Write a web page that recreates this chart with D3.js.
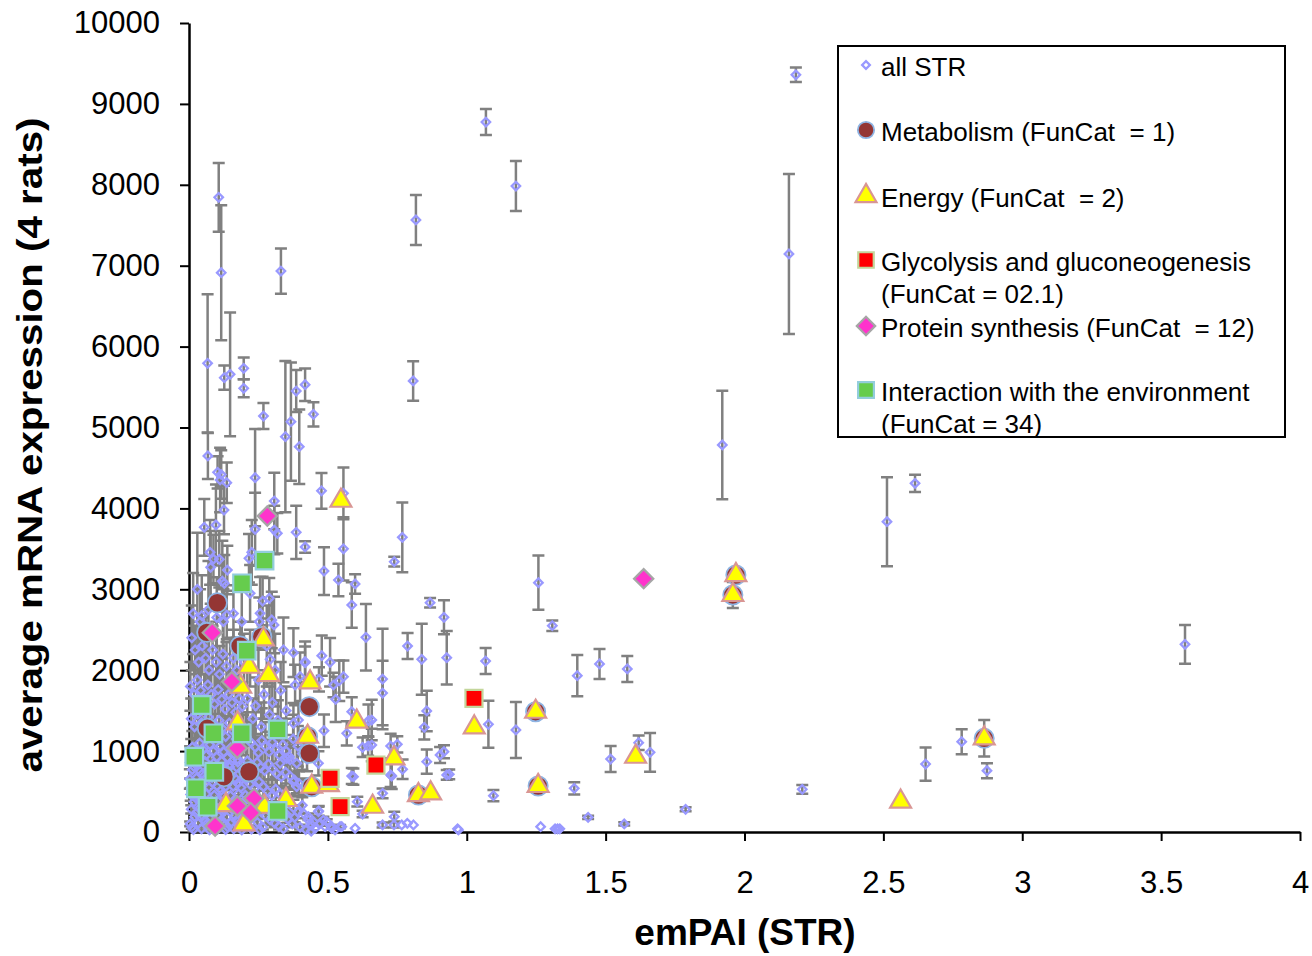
<!DOCTYPE html>
<html>
<head>
<meta charset="utf-8">
<script src="https://cdn.jsdelivr.net/npm/d3@7"></script>
<style>
  body { margin: 0; background: #fff; }
  svg { font-family: "Liberation Sans", Arial, sans-serif; }
</style>
</head>
<body>
<div id="chart"></div>
<script>
const xTicks = [0, 0.5, 1, 1.5, 2, 2.5, 3, 3.5, 4];
const yTicks = [0, 1000, 2000, 3000, 4000, 5000, 6000, 7000, 8000, 9000, 10000];

// all STR: [emPAI, mRNA, error]
const allStr = [
  [2.185, 9360, 90], [1.069, 8776, 160], [1.177, 7985, 310], [0.817, 7565, 310],
  [2.160, 7145, 990], [0.331, 6934, 280], [0.107, 7845, 425], [0.116, 6913, 835],
  [0.067, 5793, 855], [0.127, 5616, 150], [0.148, 5658, 765], [0.197, 5731, 135],
  [0.197, 5485, 110], [0.268, 5142, 160], [0.347, 4886, 935], [0.367, 5072, 730],
  [0.386, 5451, 260], [0.418, 5529, 200], [0.397, 4763, 460], [0.448, 5163, 150],
  [0.807, 5575, 245], [0.477, 4217, 220], [0.556, 4187, 320], [0.556, 3500, 390],
  [0.418, 3523, 70], [0.486, 3226, 295], [0.538, 3115, 200], [0.598, 3066, 120],
  [0.586, 2806, 280], [0.637, 2407, 410], [0.768, 3642, 430], [0.739, 3341, 60],
  [0.868, 2834, 60], [0.918, 2654, 210], [0.787, 2299, 160], [0.697, 1891, 620],
  [0.697, 1718, 400], [0.838, 2135, 440], [0.928, 2154, 330], [1.068, 2113, 160],
  [1.258, 3082, 335], [1.308, 2550, 65], [1.398, 1932, 255], [1.478, 2077, 185],
  [1.578, 2015, 160], [1.920, 4784, 670], [2.513, 3836, 550], [2.614, 4310, 107],
  [3.586, 2320, 240], [1.078, 1331, 290], [1.177, 1261, 345], [1.387, 540, 75],
  [1.518, 902, 160], [1.619, 1104, 90], [1.660, 985, 240], [1.266, 66, 0],
  [1.318, 40, 0], [1.327, 40, 0], [1.335, 40, 0], [1.437, 181, 20],
  [1.567, 99, 20], [1.788, 280, 25], [0.967, 40, 0], [1.096, 449, 70],
  [2.208, 527, 55], [2.652, 840, 205], [2.782, 1116, 155], [2.863, 1158, 225],
  [2.873, 758, 93], [1.958, 2930, 160],
  // 0.4 - 1.0
  [0.478, 2180, 250], [0.508, 2098, 300], [0.418, 2093, 200], [0.556, 1920, 200],
  [0.541, 1870, 250], [0.520, 1817, 150], [0.528, 1640, 280], [0.468, 1887, 150],
  [0.586, 1487, 180], [0.646, 1376, 200], [0.568, 1220, 150], [0.486, 1252, 200],
  [0.856, 1496, 250], [0.847, 1294, 150], [0.625, 1047, 120], [0.645, 1063, 120],
  [0.726, 1063, 150], [0.750, 1084, 100], [0.856, 869, 150], [0.904, 952, 100],
  [0.918, 993, 80], [0.928, 705, 60], [0.937, 713, 60], [0.726, 705, 150],
  [0.586, 692, 100], [0.769, 775, 120], [0.697, 478, 60], [0.606, 375, 60],
  [0.625, 222, 40], [0.739, 189, 60], [0.466, 251, 60], [0.484, 148, 40],
  [0.658, 1384, 250], [0.658, 1075, 200], [0.730, 692, 160], [0.412, 231, 0],
  [0.430, 148, 0], [0.442, 87, 0], [0.454, 45, 0], [0.490, 66, 0],
  [0.514, 45, 0], [0.526, 25, 0], [0.550, 66, 0], [0.598, 45, 0],
  [0.697, 87, 30], [0.738, 87, 30], [0.766, 87, 0], [0.786, 107, 0],
  [0.808, 87, 0], [0.970, 25, 0],
  // upper left
  [0.068, 4648, 285], [0.103, 4446, 200], [0.116, 4419, 300], [0.112, 4351, 400],
  [0.136, 4318, 250], [0.238, 4380, 600], [0.126, 3980, 300], [0.307, 4091, 350],
  [0.055, 3766, 350], [0.097, 3795, 500], [0.238, 3742, 450], [0.307, 3733, 300],
  [0.318, 3692, 250], [0.386, 3704, 330], [0.076, 3457, 400], [0.088, 3374, 300],
  [0.109, 3371, 350], [0.078, 3272, 450], [0.138, 3238, 300], [0.127, 3074, 350],
  [0.226, 3457, 400], [0.216, 3383, 300], [0.220, 2950, 350], [0.265, 2855, 300],
  [0.289, 2889, 250], [0.256, 2703, 450], [0.253, 2600, 300], [0.298, 2621, 350],
  [0.046, 2674, 500], [0.136, 2682, 300], [0.124, 2600, 400], [0.015, 2700, 500],
  [0.040, 2600, 400], [0.070, 2750, 600], [0.100, 2650, 500], [0.160, 2700, 350],
  [0.190, 2600, 450], [0.030, 3000, 700], [0.120, 3100, 500],
  // 0.3 - 0.45
  [0.376, 2217, 300], [0.418, 2105, 250], [0.400, 1920, 300], [0.382, 1817, 250],
  [0.394, 1384, 200], [0.376, 1344, 250], [0.306, 2559, 350], [0.292, 2135, 300],
  [0.466, 849, 150], [0.388, 849, 200], [0.364, 890, 150], [0.328, 849, 200],
  [0.352, 911, 150], [0.592, 684, 100], [0.376, 622, 100], [0.388, 560, 80],
  [0.430, 189, 40], [0.448, 127, 40], [0.472, 107, 30], [0.514, 66, 20],
  [0.544, 66, 20], [0.496, 127, 30], [0.467, 260, 60],
  [0.21, 1650, 400], [0.24, 1560, 350], [0.27, 1700, 300], [0.30, 1600, 400],
  [0.33, 1750, 350], [0.35, 1500, 300], [0.23, 1400, 250], [0.26, 1300, 300],
  [0.29, 1450, 350], [0.32, 1380, 250], [0.25, 1880, 400], [0.31, 2000, 450],
  [0.34, 2250, 400], [0.22, 2150, 350], [0.28, 2300, 500],
  // 0 - 0.2, 900 - 2500
  [0.010, 2400, 400], [0.022, 2250, 300], [0.035, 2100, 500], [0.048, 2300, 350],
  [0.060, 2150, 600], [0.072, 2000, 400], [0.085, 2250, 300], [0.098, 2100, 500],
  [0.110, 1950, 350], [0.122, 2200, 450], [0.135, 2050, 300], [0.148, 1900, 500],
  [0.160, 2150, 350], [0.172, 2000, 400], [0.185, 2300, 300], [0.198, 2100, 350],
  [0.005, 1800, 300], [0.018, 1700, 400], [0.030, 1880, 350], [0.042, 1750, 500],
  [0.055, 1650, 300], [0.068, 1820, 450], [0.080, 1700, 350], [0.092, 1580, 400],
  [0.105, 1760, 300], [0.118, 1640, 500], [0.130, 1520, 350], [0.142, 1700, 300],
  [0.155, 1600, 400], [0.168, 1480, 300], [0.180, 1650, 350], [0.192, 1550, 300],
  [0.008, 1400, 250], [0.020, 1300, 350], [0.032, 1460, 300], [0.045, 1350, 400],
  [0.058, 1250, 300], [0.070, 1420, 350], [0.082, 1320, 250], [0.095, 1200, 400],
  [0.108, 1380, 300], [0.120, 1280, 350], [0.132, 1180, 250], [0.145, 1350, 300],
  [0.158, 1250, 350], [0.170, 1150, 250], [0.182, 1300, 300], [0.195, 1200, 250],
  [0.012, 1050, 200], [0.025, 980, 250], [0.038, 1100, 300], [0.050, 1020, 200],
  [0.062, 950, 250], [0.075, 1080, 300], [0.088, 1000, 200], [0.100, 930, 250],
  [0.112, 1060, 200], [0.125, 990, 300], [0.138, 920, 200], [0.150, 1040, 250],
  [0.162, 970, 200], [0.175, 900, 250], [0.188, 1020, 200],
  // 0.2 - 0.45, 0 - 1200
  [0.205, 1180, 300], [0.222, 1110, 250], [0.238, 1050, 350], [0.250, 980, 200],
  [0.262, 1130, 400], [0.275, 1060, 300], [0.288, 990, 250], [0.300, 1110, 350],
  [0.312, 1020, 200], [0.325, 950, 300], [0.338, 1080, 250], [0.350, 1000, 400],
  [0.362, 930, 200], [0.375, 1150, 300], [0.392, 1060, 250], [0.408, 970, 200],
  [0.425, 900, 150], [0.210, 880, 200], [0.228, 820, 250], [0.245, 860, 300],
  [0.258, 800, 200], [0.272, 760, 250], [0.286, 840, 300], [0.300, 780, 200],
  [0.316, 720, 150], [0.332, 680, 250], [0.348, 740, 200], [0.364, 690, 150],
  [0.380, 640, 200], [0.396, 600, 150], [0.414, 560, 100], [0.205, 650, 150],
  [0.220, 590, 200], [0.236, 540, 150], [0.252, 620, 250], [0.268, 560, 200],
  [0.283, 500, 150], [0.298, 450, 200], [0.312, 530, 150], [0.328, 470, 100],
  [0.344, 410, 150], [0.360, 360, 100], [0.376, 300, 100], [0.392, 250, 80],
  [0.408, 330, 100], [0.212, 420, 100], [0.228, 360, 150], [0.244, 300, 100],
  [0.260, 250, 80], [0.276, 200, 100], [0.292, 150, 60], [0.308, 110, 50],
  [0.324, 70, 40], [0.340, 40, 30], [0.356, 160, 50], [0.372, 100, 40],
  [0.266, 60, 30], [0.246, 120, 40], [0.230, 190, 60], [0.290, 300, 80],
  [0.320, 260, 80], [0.350, 220, 60], [0.380, 180, 60], [0.400, 60, 30],
  [0.420, 30, 20], [0.440, 10, 10],
  // 0 - 0.2, 0 - 900
  [0.004, 860, 200], [0.031, 845, 150], [0.058, 870, 250], [0.089, 850, 180],
  [0.118, 875, 220], [0.147, 840, 160], [0.176, 865, 200],
  [0.012, 770, 150], [0.040, 750, 200], [0.069, 775, 120], [0.100, 755, 180],
  [0.128, 770, 150], [0.157, 745, 200], [0.190, 760, 120],
  [0.003, 655, 120], [0.027, 670, 150], [0.055, 650, 100], [0.083, 675, 160],
  [0.112, 645, 120], [0.141, 665, 150], [0.170, 650, 100], [0.198, 670, 130],
  [0.015, 560, 100], [0.043, 575, 120], [0.072, 550, 100], [0.101, 570, 140],
  [0.130, 555, 90], [0.159, 565, 120], [0.187, 550, 100],
  [0.006, 465, 80], [0.034, 450, 100], [0.062, 470, 90], [0.091, 455, 110],
  [0.120, 465, 80], [0.149, 450, 100], [0.178, 470, 90], [0.203, 455, 80],
  [0.018, 370, 60], [0.047, 385, 80], [0.076, 360, 70], [0.105, 380, 90],
  [0.134, 365, 60], [0.163, 375, 80], [0.192, 360, 70],
  [0.008, 280, 50], [0.037, 290, 60], [0.066, 270, 50], [0.095, 285, 70],
  [0.124, 275, 50], [0.153, 290, 60], [0.182, 270, 50],
  [0.020, 190, 40], [0.049, 200, 50], [0.078, 180, 40], [0.107, 195, 50],
  [0.136, 185, 40], [0.165, 200, 50], [0.194, 185, 40],
  [0.004, 100, 30], [0.033, 110, 40], [0.062, 95, 30], [0.091, 105, 40],
  [0.120, 100, 30], [0.149, 110, 40], [0.178, 95, 30], [0.207, 105, 30],
  [0.016, 30, 20], [0.045, 40, 20], [0.074, 25, 20], [0.103, 35, 20],
  [0.132, 30, 20], [0.161, 40, 20], [0.190, 25, 20], [0.225, 35, 20], [0.255, 25, 10],
  // extra fill near the origin
  [0.017, 810, 120], [0.047, 715, 100], [0.086, 610, 120], [0.116, 515, 90],
  [0.146, 805, 140], [0.176, 600, 100], [0.026, 415, 70], [0.056, 330, 60],
  [0.086, 235, 50], [0.116, 145, 40], [0.146, 330, 60], [0.172, 150, 40],
  [0.026, 235, 40], [0.056, 140, 30], [0.010, 60, 20], [0.140, 60, 20]
];

// FunCat subsets: [emPAI, mRNA]
const metabolism = [
  [0.102, 2834], [0.064, 2468], [0.184, 2299], [0.262, 2414], [0.066, 1282],
  [0.433, 1549], [0.427, 1178], [0.433, 973], [0.442, 560], [0.126, 684],
  [0.216, 745], [0.826, 457], [1.248, 1487], [1.257, 569], [1.969, 3177],
  [1.958, 2930], [2.863, 1158]
];
const energy = [
  [0.547, 4095], [0.268, 2382], [0.216, 2043], [0.286, 1941], [0.186, 1796],
  [0.436, 1850], [0.175, 1344], [0.427, 1178], [0.604, 1364], [0.442, 560],
  [0.133, 334], [0.271, 313], [0.349, 396], [0.198, 95], [0.661, 313],
  [0.738, 911], [0.502, 580], [0.826, 457], [0.870, 478], [1.027, 1294],
  [1.248, 1487], [1.257, 569], [1.608, 931], [1.969, 3177], [1.958, 2930],
  [2.562, 375], [2.863, 1158]
];
const glycolysis = [[1.026, 1652], [0.508, 664], [0.544, 313], [0.673, 828]];
const protein = [
  [0.282, 3906], [0.084, 2464], [0.154, 1858], [0.174, 1035], [0.234, 416],
  [0.174, 321], [0.222, 239], [0.094, 74], [1.637, 3131]
];
const interaction = [
  [0.272, 3354], [0.191, 3074], [0.208, 2241], [0.046, 1570], [0.088, 1220],
  [0.190, 1220], [0.319, 1269], [0.019, 931], [0.091, 745], [0.025, 540],
  [0.067, 313], [0.319, 260]
];

const legendLabels = [
  ['all STR'],
  ['Metabolism (FunCat  = 1)'],
  ['Energy (FunCat  = 2)'],
  ['Glycolysis and gluconeogenesis', '(FunCat = 02.1)'],
  ['Protein synthesis (FunCat  = 12)'],
  ['Interaction with the environment', '(FunCat = 34)']
];

const width = 1312, height = 956;

const x = d3.scaleLinear().domain([0, 4]).range([189, 1300]);
const y = d3.scaleLinear().domain([0, 10000]).range([832, 23]);

const svg = d3.select('#chart').append('svg')
  .attr('width', width)
  .attr('height', height);

// axes
const yAxis = svg.append('g')
  .attr('transform', 'translate(189,0)')
  .call(d3.axisLeft(y).tickValues(yTicks).tickSize(9).tickSizeOuter(0).tickPadding(20)
    .tickFormat(d3.format('d')));
const xAxis = svg.append('g')
  .attr('transform', 'translate(0,832)')
  .call(d3.axisBottom(x).tickValues(xTicks).tickSize(9).tickSizeOuter(0).tickPadding(30)
    .tickFormat(d3.format('')));

[xAxis, yAxis].forEach(g => {
  g.select('.domain').attr('stroke', '#000').attr('stroke-width', 2.5);
  g.selectAll('.tick line').attr('stroke', '#000').attr('stroke-width', 2);
  g.selectAll('.tick text')
    .attr('fill', '#000')
    .attr('font-size', '31px')
    .attr('font-family', '"Liberation Sans", Arial, sans-serif');
});

svg.append('text')
  .text('emPAI (STR)')
  .attr('x', 745)
  .attr('y', 945)
  .attr('text-anchor', 'middle')
  .attr('font-weight', 'bold')
  .attr('font-size', '37px');

svg.append('text')
  .text('average mRNA expression (4 rats)')
  .attr('transform', 'translate(42,445) rotate(-90)')
  .attr('text-anchor', 'middle')
  .attr('font-weight', 'bold')
  .attr('font-size', '35px')
  .attr('textLength', 655)
  .attr('lengthAdjust', 'spacingAndGlyphs');

// error bars for all STR
const bars = svg.append('g').attr('stroke', '#808080').attr('stroke-width', 2.5).attr('fill', 'none');
bars.selectAll('path')
  .data(allStr.filter(d => d[2] > 0))
  .enter()
  .append('path')
  .attr('d', d => {
    const cx = x(d[0]), top = y(d[1] + d[2]), bot = y(Math.max(0, d[1] - d[2]));
    return `M${cx},${top}V${bot}M${cx - 6},${top}H${cx + 6}M${cx - 6},${bot}H${cx + 6}`;
  });

const series = [
  { data: allStr, symbol: d3.symbolSquare, size: 36, rotate: 45, fill: 'none', stroke: '#9999ff', sw: 2.3 },
  { data: metabolism, symbol: d3.symbolCircle, size: 290, rotate: 0, fill: '#943634', stroke: '#8eb4e3', sw: 1.8 },
  { data: energy, symbol: d3.symbolTriangle, size: 190, rotate: 0, fill: '#ffff00', stroke: '#d99694', sw: 2.2 },
  { data: glycolysis, symbol: d3.symbolSquare, size: 290, rotate: 0, fill: '#ff0000', stroke: '#c3d69b', sw: 2.2 },
  { data: protein, symbol: d3.symbolSquare, size: 185, rotate: 45, fill: '#ff33cc', stroke: '#a6a6a6', sw: 2.2 },
  { data: interaction, symbol: d3.symbolSquare, size: 310, rotate: 0, fill: '#66cc4d', stroke: '#93cddd', sw: 2.2 }
];

series.forEach(s => {
  const sym = d3.symbol().type(s.symbol).size(s.size);
  svg.append('g').selectAll('path')
    .data(s.data)
    .enter()
    .append('path')
    .attr('d', sym)
    .attr('transform', d => `translate(${x(d[0])},${y(d[1])}) rotate(${s.rotate})`)
    .attr('fill', s.fill)
    .attr('stroke', s.stroke)
    .attr('stroke-width', s.sw);
});

// legend
const legend = svg.append('g');
legend.append('rect')
  .attr('x', 838).attr('y', 46)
  .attr('width', 447).attr('height', 391)
  .attr('fill', '#fff')
  .attr('stroke', '#000')
  .attr('stroke-width', 2);

const legendY = [65, 130, 196, 260, 326, 390];
const legendSizes = [30, 210, 190, 240, 170, 250];
series.forEach((s, i) => {
  const sym = d3.symbol().type(s.symbol).size(legendSizes[i]);
  legend.append('path')
    .attr('d', sym)
    .attr('transform', `translate(866,${legendY[i]}) rotate(${s.rotate})`)
    .attr('fill', s.fill)
    .attr('stroke', s.stroke)
    .attr('stroke-width', s.sw);
  legendLabels[i].forEach((t, j) => {
    legend.append('text')
      .attr('x', 881)
      .attr('y', legendY[i] + 2 + j * 32)
      .attr('dy', '0.35em')
      .attr('font-size', '26px')
      .style('white-space', 'pre')
      .text(t);
  });
});
</script>
</body>
</html>
